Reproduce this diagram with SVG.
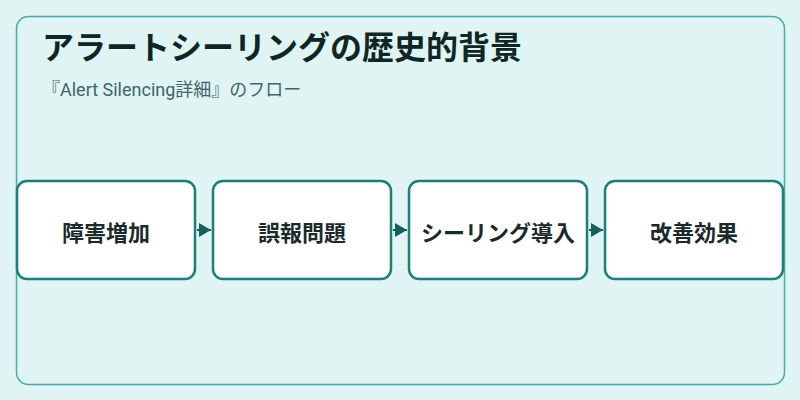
<svg xmlns="http://www.w3.org/2000/svg" width="800" height="400" viewBox="0 0 800 400">
<style>
.node rect{fill:#ffffff;stroke:#1b7f7b;stroke-width:2.5}
.node text{font-family:"Noto Sans CJK JP","Noto Sans",sans-serif;font-size:22px;font-weight:bold;fill:#1a2a2a;text-anchor:middle;dominant-baseline:central}
.title{font-family:"Noto Sans CJK JP","Noto Sans",sans-serif;font-size:32px;font-weight:bold;fill:#0f2626}
.sub{font-family:"Roboto","Noto Sans CJK JP",sans-serif;font-size:18px;fill:#3d6666}
</style>
<defs>
<marker id="arr" viewBox="0 0 12 14" refX="12" refY="7" markerWidth="12" markerHeight="14" markerUnits="userSpaceOnUse" orient="auto">
<path d="M0,0L12,7L0,14Z" fill="#175f5e"/>
</marker>
</defs>
<rect width="800" height="400" fill="#e0f4f3"/>
<rect x="16.5" y="16.5" width="768" height="368" rx="12" fill="#e0f4f3" stroke="#4aa8a7" stroke-width="1.5"/>
<text class="title" x="42" y="59">アラートシーリングの歴史的背景</text>
<text class="sub" x="42" y="96">『Alert Silencing詳細』のフロー</text>
<g id="connectors">
<path d="M197,230L211,230" stroke="#175f5e" stroke-width="2" marker-end="url(#arr)"/>
<path d="M393,230L407,230" stroke="#175f5e" stroke-width="2" marker-end="url(#arr)"/>
<path d="M589,230L603,230" stroke="#175f5e" stroke-width="2" marker-end="url(#arr)"/>
</g>
<g id="node1" class="node"><rect x="17" y="181" width="178" height="98" rx="10"/><text x="106" y="231">障害増加</text></g>
<g id="node2" class="node"><rect x="213" y="181" width="178" height="98" rx="10"/><text x="302" y="231">誤報問題</text></g>
<g id="node3" class="node"><rect x="409" y="181" width="178" height="98" rx="10"/><text x="498" y="231">シーリング導入</text></g>
<g id="node4" class="node"><rect x="605" y="181" width="178" height="98" rx="10"/><text x="694" y="231">改善効果</text></g>
</svg>
